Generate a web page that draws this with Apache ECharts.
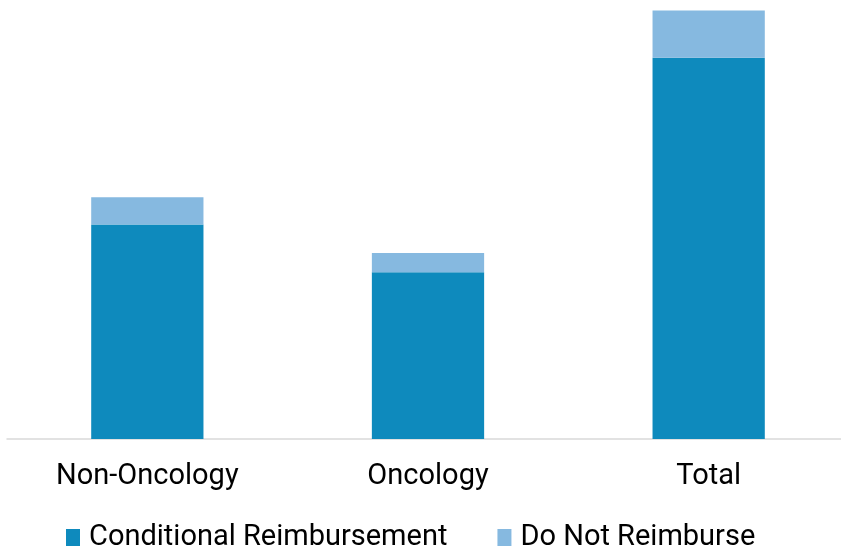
<!DOCTYPE html>
<html><head><meta charset="utf-8">
<script src="https://cdn.jsdelivr.net/npm/echarts@6/dist/echarts.min.js"></script>
<style>html,body{margin:0;padding:0;background:#fff;overflow:hidden}#c{width:849px;height:549px}</style>
</head><body><div id="c"></div>
<script>
const categories = ['Non-Oncology', 'Oncology', 'Total'];
const conditional = [45, 35, 80];
const doNotReimburse = [5.7, 4, 9.9];
const seriesNames = ['Conditional Reimbursement', 'Do Not Reimburse'];

const chart = echarts.init(document.getElementById('c'));
const font = 'Roboto, "Liberation Sans", sans-serif';
chart.setOption({
  animation: false,
  grid: { left: 7, right: 0, top: 10, bottom: 110, containLabel: false },
  xAxis: {
    type: 'category', data: categories,
    axisLine: { lineStyle: { color: '#d9d9d9', width: 1.5 } },
    axisTick: { show: false },
    axisLabel: { color: '#000', fontSize: 29, fontFamily: font, margin: 23 }
  },
  yAxis: { type: 'value', min: 0, max: 90, show: false, splitLine: { show: false } },
  legend: {
    top: 518, left: 61, itemWidth: 14, itemHeight: 17, itemGap: 50,
    icon: 'rect',
    textStyle: { color: '#000', fontSize: 29, fontFamily: font, padding: [0, 0, 0, 4] }
  },
  series: [
    { name: seriesNames[0], type: 'bar', stack: 's', data: conditional, barWidth: '40%',
      itemStyle: { color: '#0E8ABD' } },
    { name: seriesNames[1], type: 'bar', stack: 's', data: doNotReimburse, barWidth: '40%',
      itemStyle: { color: '#86B9E0' } }
  ]
});
</script></body></html>
